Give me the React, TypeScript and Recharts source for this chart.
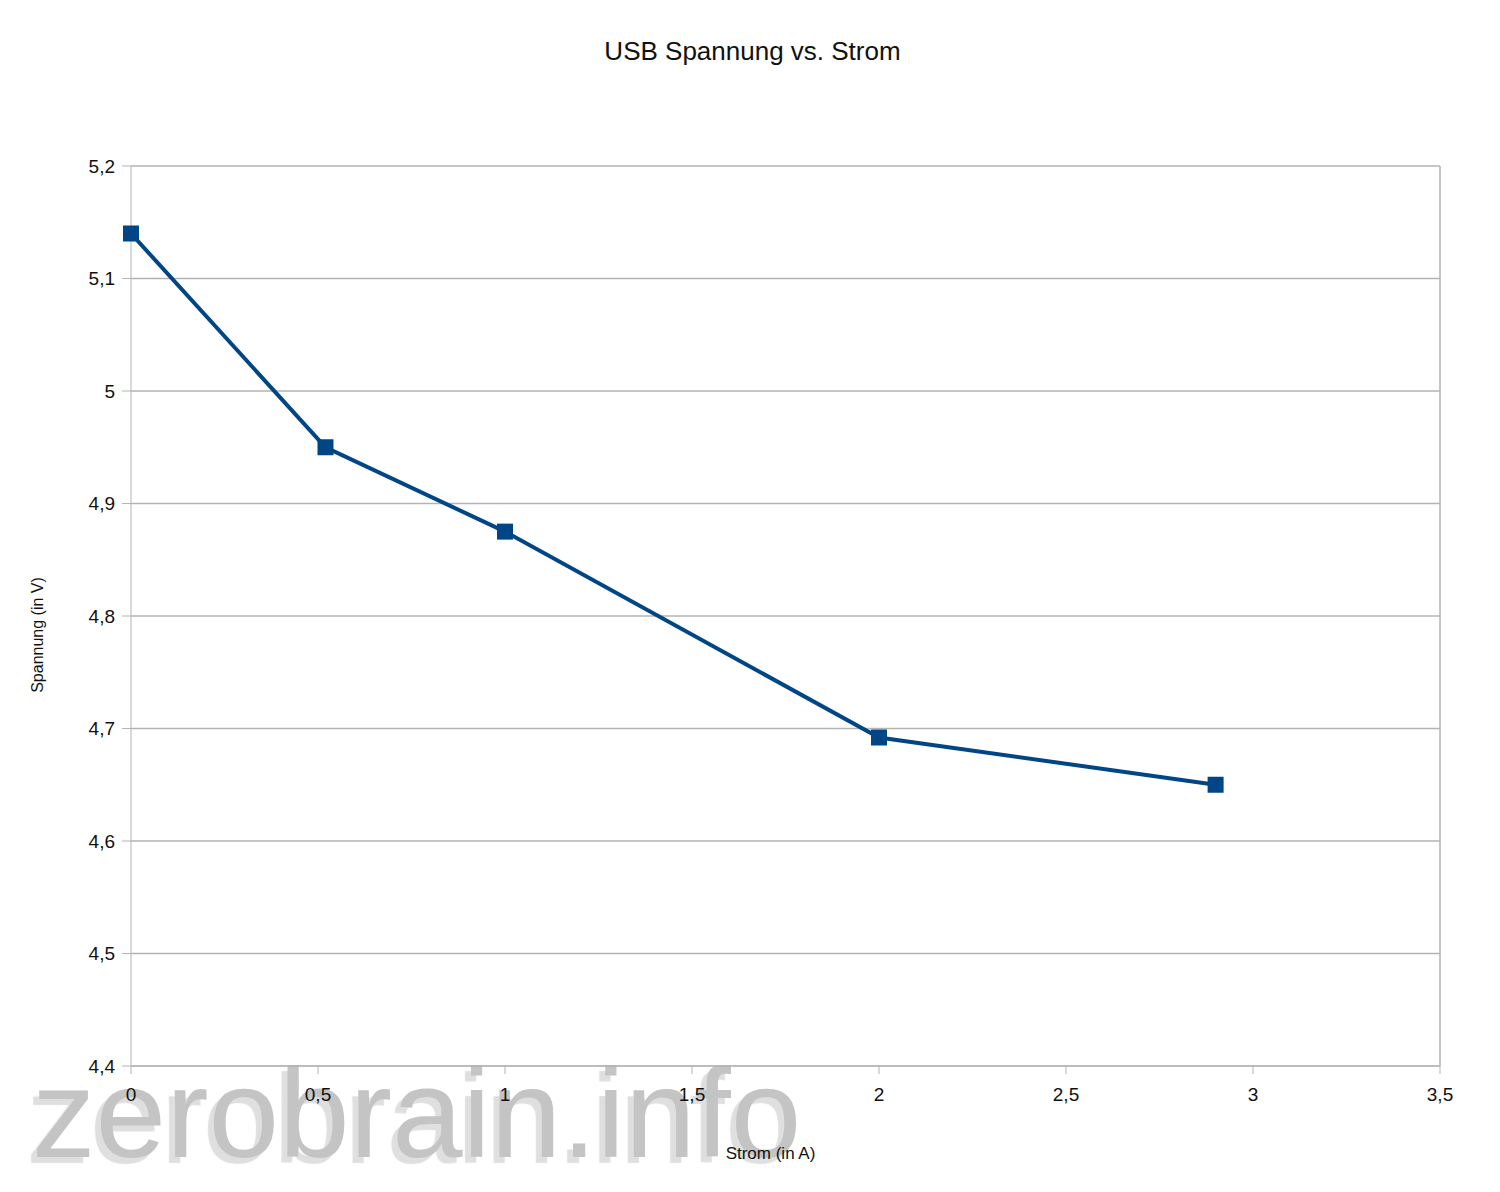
import React from "react";
import {
  LineChart,
  Line,
  XAxis,
  YAxis,
  CartesianGrid,
  ReferenceLine,
  Label,
} from "recharts";

// Strom (A) und gemessene Spannung (V)
const strom = [0, 0.52, 1.0, 2.0, 2.9];
const spannung = [5.14, 4.95, 4.875, 4.692, 4.65];

const xTicks = [0, 0.5, 1, 1.5, 2, 2.5, 3, 3.5];
const yTicks = [4.4, 4.5, 4.6, 4.7, 4.8, 4.9, 5, 5.1, 5.2];

const data = strom.map((s, i) => ({ strom: s, spannung: spannung[i] }));

const fmt = (v: number) => String(v).replace(".", ",");

const SquareDot = (props: any) => {
  const { cx, cy } = props;
  if (cx == null || cy == null) return null;
  return <rect x={cx - 8} y={cy - 8} width={16} height={16} fill="#004586" />;
};

export default function App() {
  const font = "'Liberation Sans', Arial, sans-serif";
  return (
    <div
      style={{
        position: "absolute",
        left: 0,
        top: 0,
        width: 1500,
        height: 1192,
        background: "#fff",
        fontFamily: font,
      }}
    >
      {/* watermark behind the chart */}
      <div
        style={{
          position: "absolute",
          left: 32,
          top: 1028,
          fontSize: 127,
          lineHeight: "170px",
          color: "#c4c4c4",
          textShadow: "-6px 6px 1px rgba(215,215,215,0.8)",
          pointerEvents: "none",
          fontFamily: font,
          whiteSpace: "nowrap",
        }}
      >
        zerobrain.info
      </div>
      <div
        style={{
          position: "absolute",
          top: 36,
          left: 0,
          width: 1505,
          textAlign: "center",
          fontSize: 26,
          color: "#111",
        }}
      >
        USB Spannung vs. Strom
      </div>
      <div style={{ position: "absolute", left: 0, top: 0 }}>
        <LineChart
          width={1500}
          height={1192}
          data={data}
          margin={{ top: 166, right: 60, left: 0, bottom: 0 }}
        >
          <CartesianGrid horizontal vertical={false} stroke="#b3b3b3" strokeWidth={1.5} />
          <ReferenceLine x={3.5} stroke="#b3b3b3" strokeWidth={1.5} />
          <XAxis
            dataKey="strom"
            type="number"
            domain={[0, 3.5]}
            ticks={xTicks}
            tickFormatter={fmt}
            height={126}
            stroke="#b3b3b3"
            tickSize={8}
            tickMargin={14}
            tick={{ fill: "#111", fontSize: 19, fontFamily: font }}
          >
            <Label
              value="Strom (in A)"
              position="insideBottom"
              offset={33}
              dx={-15}
              style={{ fill: "#111", fontSize: 17, fontFamily: font }}
            />
          </XAxis>
          <YAxis
            type="number"
            domain={[4.4, 5.2]}
            ticks={yTicks}
            tickFormatter={fmt}
            width={131}
            stroke="#b3b3b3"
            tickSize={9}
            tickMargin={7}
            tick={{ fill: "#111", fontSize: 19, fontFamily: font }}
          >
            <Label
              value="Spannung (in V)"
              angle={-90}
              position="insideLeft"
              offset={37}
              dy={19}
              style={{ textAnchor: "middle", fill: "#111", fontSize: 16, fontFamily: font }}
            />
          </YAxis>
          <Line
            dataKey="spannung"
            stroke="#004586"
            strokeWidth={4}
            dot={<SquareDot />}
            activeDot={false}
            isAnimationActive={false}
          />
        </LineChart>
      </div>
    </div>
  );
}
